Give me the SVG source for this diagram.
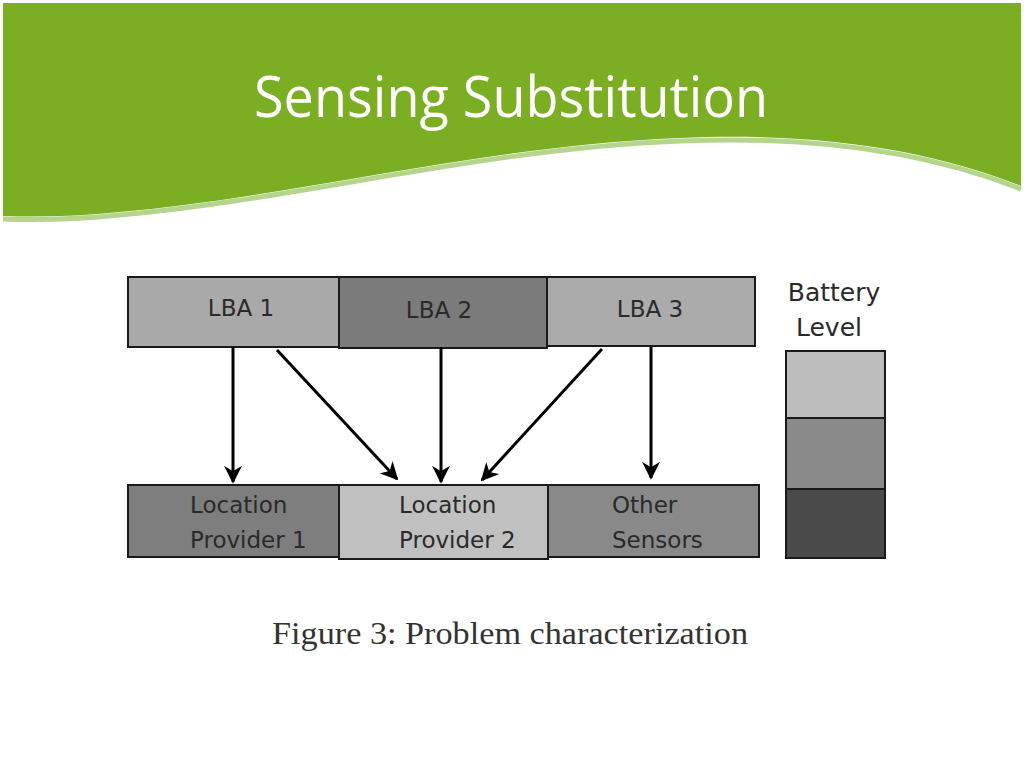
<svg xmlns="http://www.w3.org/2000/svg" width="1024" height="768" viewBox="0 0 1024 768">
<style>
.box{stroke:#1a1a1a;stroke-width:2}
.lbl{font-family:"DejaVu Sans",sans-serif;font-size:23px;fill:#2a2a2a}
.bat{font-family:"DejaVu Sans",sans-serif;font-size:25px;fill:#2a2a2a}
.arr{stroke:#000;stroke-width:3;fill:none;marker-end:url(#ah)}
</style>
<defs>
<marker id="ah" viewBox="0 0 10 10" refX="9" refY="5" markerWidth="6" markerHeight="6" markerUnits="strokeWidth" orient="auto">
<path d="M0,0 L10,5 L0,10 L3,5 Z" fill="#000"/>
</marker>
</defs>
<rect width="1024" height="768" fill="#fff"/>
<g id="header">
<path d="M3,3 H1021 V186 C 930,150 820,132 680,138 C 480,146 300,196 120,212 Q 60,218 3,216 Z" fill="#7cae23"/>
<path d="M3,216 Q 60,218 120,212 C 300,196 480,146 680,138 C 820,132 930,150 1021,186" fill="none" stroke="#b6d58c" stroke-width="5" transform="translate(0,3)"/>
<text x="511" y="117" text-anchor="middle" font-family="'Open Sans',sans-serif" font-size="57" fill="#fff" textLength="514" lengthAdjust="spacingAndGlyphs">Sensing Substitution</text>
</g>
<g id="lba1"><rect class="box" x="128" y="277" width="211" height="70" fill="#a9a9a9"/><text class="lbl" x="241" y="316" text-anchor="middle">LBA 1</text></g>
<g id="lba3"><rect class="box" x="546" y="277" width="209" height="69" fill="#ababab"/><text class="lbl" x="650" y="317" text-anchor="middle">LBA 3</text></g>
<g id="lba2"><rect class="box" x="339" y="277" width="208" height="71" fill="#7b7b7b"/><text class="lbl" x="439" y="318" text-anchor="middle">LBA 2</text></g>
<g id="lp1"><rect class="box" x="128" y="485" width="211" height="72" fill="#7e7e7e"/><text class="lbl" x="190" y="513">Location</text><text class="lbl" x="190" y="548">Provider 1</text></g>
<g id="other"><rect class="box" x="548" y="485" width="211" height="72" fill="#898989"/><text class="lbl" x="612" y="513">Other</text><text class="lbl" x="612" y="548">Sensors</text></g>
<g id="lp2"><rect class="box" x="339" y="485" width="209" height="74" fill="#c0c0c0"/><text class="lbl" x="399" y="513">Location</text><text class="lbl" x="399" y="548">Provider 2</text></g>
<g id="battery">
<text class="bat" x="834" y="301" text-anchor="middle">Battery</text>
<text class="bat" x="829" y="336" text-anchor="middle">Level</text>
<rect class="box" x="786" y="351" width="99" height="67" fill="#bdbdbd"/>
<rect class="box" x="786" y="418" width="99" height="71" fill="#8a8a8a"/>
<rect class="box" x="786" y="489" width="99" height="69" fill="#4b4b4b"/>
</g>
<g id="connectors">
<path class="arr" d="M233,347 V482"/>
<path class="arr" d="M277,350 L397,479"/>
<path class="arr" d="M441,347 V482"/>
<path class="arr" d="M602,349 L482,480"/>
<path class="arr" d="M651,347 V478"/>
</g>
<text x="510" y="644" text-anchor="middle" font-family="'Liberation Serif','Times New Roman',serif" font-size="31" fill="#333" textLength="476" lengthAdjust="spacingAndGlyphs">Figure 3: Problem characterization</text>
</svg>
